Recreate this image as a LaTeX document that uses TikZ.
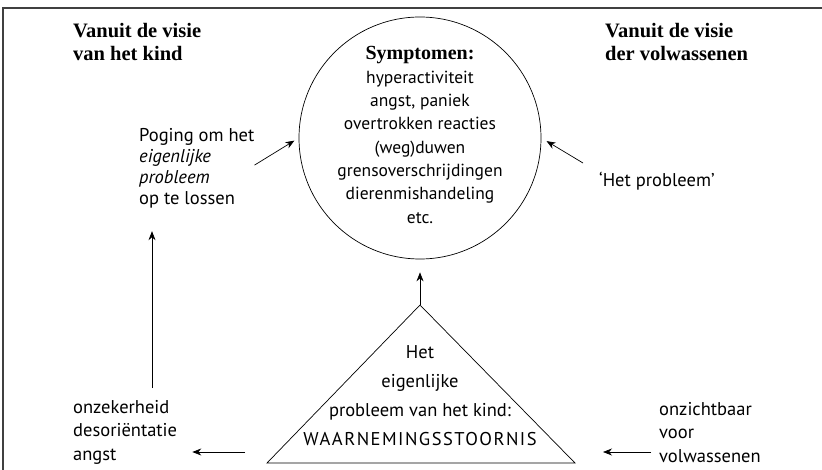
\documentclass[tikz,border=0pt]{standalone}
\usepackage{fontspec}
\setmainfont{Liberation Serif}
\setsansfont{PT Sans}
\usetikzlibrary{positioning,calc,arrows.meta}

\begin{document}
\begin{tikzpicture}[x=1pt,y=-1pt,
  kop/.style={align=left,inner sep=0pt,font=\fontsize{20.5}{23}\selectfont\bfseries\rmfamily},
  tekst/.style={align=left,inner sep=0pt,font=\fontsize{18.5}{21}\selectfont\sffamily},
  pijl/.style={-{Stealth[length=9pt,width=7pt]},line width=0.7pt}]
  \useasboundingbox (0,0) rectangle (822,470);
  \draw[line width=1.1pt,black!75] (3,470) -- (3,8) -- (822,8);

  % koppen
  \node[kop,anchor=north west] (kind) at (73,23) {Vanuit de visie\\van het kind};
  \node[kop,anchor=north west] (volw) at (605,23) {Vanuit de visie\\der volwassenen};

  % symptomen
  \node[draw,circle,minimum size=242pt,inner sep=0pt,line width=0.7pt] (sympt) at (420,138) {};
  \node[tekst,align=center,font=\fontsize{17.5}{23.3}\selectfont\sffamily] (lijst) at (420,135)
    {{\fontsize{20}{23.3}\selectfont\rmfamily\bfseries Symptomen:}\\hyperactiviteit\\angst, paniek\\overtrokken reacties\\(weg)duwen\\grensoverschrijdingen\\dierenmishandeling\\etc.};

  % driehoek
  \coordinate (top) at (420,305);
  \coordinate (lo) at (267,463);
  \coordinate (ro) at (575,463);
  \draw[line width=0.7pt] (top) -- (lo) -- (ro) -- cycle;
  \node[tekst,align=center,font=\fontsize{18.5}{29}\selectfont\sffamily] (kern) at (420,396)
    {Het\\eigenlijke\\probleem van het kind:\\{\addfontfeatures{LetterSpace=8}WAARNEMINGSSTOORNIS}};

  % zijteksten
  \node[tekst,anchor=north west] (poging) at (139,128) {Poging om het\\\emph{eigenlijke}\\\emph{probleem}\\op te lossen};
  \node[tekst,anchor=west] (hetprob) at (599,181) {`Het probleem'};
  \node[tekst,anchor=north west,font=\fontsize{18.5}{23.5}\selectfont\sffamily] (onzeker) at (73,400) {onzekerheid\\desoriëntatie\\angst};
  \node[tekst,anchor=north west,font=\fontsize{18.5}{23.5}\selectfont\sffamily] (onzicht) at (659,402) {onzichtbaar\\voor\\volwassenen};

  \coordinate (kolom) at (152,0);
  \coordinate (basis) at (0,452);

  % pijlen
  \draw[pijl,shorten >=13pt] (top) -- (sympt.south);
  \draw[pijl,shorten >=5pt] ([yshift=3pt]poging.east) -- (sympt.180);
  \draw[pijl,shorten >=6pt] ($(hetprob.west)+(-16,-18)$) -- (sympt.0);
  \draw[pijl,shorten <=12pt,shorten >=23pt] (onzeker.north -| kolom) -- (poging.south -| kolom);
  \draw[pijl,shorten <=22pt,shorten >=15pt] (lo |- basis) -- (onzeker.east |- basis);
  \draw[pijl,shorten <=8pt,shorten >=28pt] (onzicht.west |- basis) -- (ro |- basis);
\end{tikzpicture}
\end{document}
